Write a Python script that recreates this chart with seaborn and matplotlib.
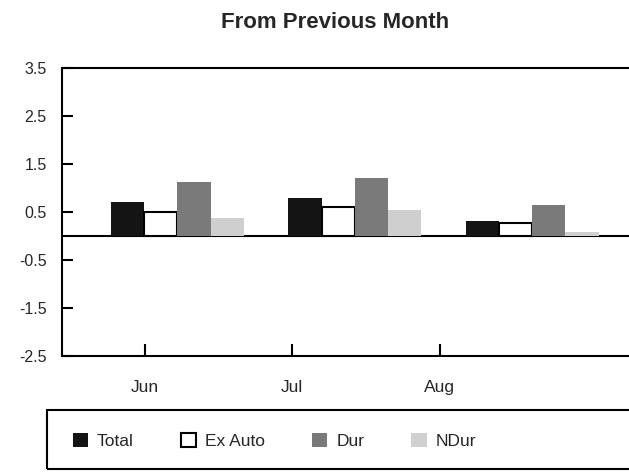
import pandas as pd
import matplotlib
matplotlib.use("Agg")
import matplotlib.pyplot as plt
import seaborn as sns
from matplotlib.patches import Patch, Rectangle

# values (% change from previous month)
months = ["Jun", "Jul", "Aug"]
series = ["Total", "Ex Auto", "Dur", "NDur"]
total = [0.70, 0.80, 0.31]
ex_auto = [0.50, 0.60, 0.27]
dur = [1.12, 1.20, 0.65]
ndur = [0.37, 0.55, 0.08]
y_ticks = [-2.5, -1.5, -0.5, 0.5, 1.5, 2.5, 3.5]

colors = {"Total": "#141414", "Ex Auto": "#ffffff", "Dur": "#7a7a7a", "NDur": "#cfcfcf"}

df = pd.DataFrame({
    "month": months * 4,
    "series": [s for s in series for _ in months],
    "value": total + ex_auto + dur + ndur,
})

sns.set_style("white")
plt.rcParams["font.family"] = ["Liberation Sans", "DejaVu Sans"]

fig = plt.figure(figsize=(6.29, 4.72), dpi=100)
ax = fig.add_axes([62 / 629, 1 - 356 / 472, 1.02 - 62 / 629, 288 / 472])

ax.axhline(0, color="black", lw=1.5, zorder=0.5)
sns.barplot(data=df, x="month", y="value", hue="series", hue_order=series,
            order=months, palette=colors, width=0.75, saturation=1,
            legend=False, ax=ax, zorder=2)

for cont, name in zip(ax.containers, series):
    for bar in cont:
        if name == "Ex Auto":
            bar.set_edgecolor("black")
            bar.set_linewidth(1.5)
        else:
            bar.set_edgecolor("none")

ax.set_ylim(-2.5, 3.5)
ax.set_xlim(-0.651, 2.617)
ax.set_yticks(y_ticks)
ax.set_yticklabels([f"{t:.1f}" for t in y_ticks], fontsize=11.5)
# month ticks sit left of the bar groups in the original
ax.set_xticks([-0.184, 0.646, 1.48])
ax.set_xticklabels(months, fontsize=12.5)
ax.tick_params(axis="y", left=True, direction="in", length=8, width=1.5, pad=11,
               color="black")
ax.tick_params(axis="x", bottom=True, direction="in", length=9, width=1.5, pad=17,
               color="black")
ax.set_xlabel("")
ax.set_ylabel("")

for side in ["left", "top", "bottom"]:
    ax.spines[side].set_linewidth(1.5)
    ax.spines[side].set_color("black")
ax.spines["right"].set_visible(False)

fig.text(335 / 629, 1 - 22 / 472, "From Previous Month", ha="center", va="center",
         fontsize=16, fontweight="bold")

handles = [Patch(facecolor=colors[s], edgecolor="black" if s == "Ex Auto" else "none",
                 linewidth=1.5) for s in series]
fig.legend(handles, series, loc="center left", bbox_to_anchor=(57 / 629, 1 - 441 / 472),
           ncol=4, frameon=False, fontsize=12.5, handlelength=0.9, handleheight=0.9,
           handletextpad=0.5, columnspacing=2.7)
fig.patches.append(Rectangle((47 / 629, 1 - 469 / 472), 0.97, 59 / 472,
                             transform=fig.transFigure, fill=False, lw=1.5, ec="black"))

fig.savefig("out.png", dpi=100)
